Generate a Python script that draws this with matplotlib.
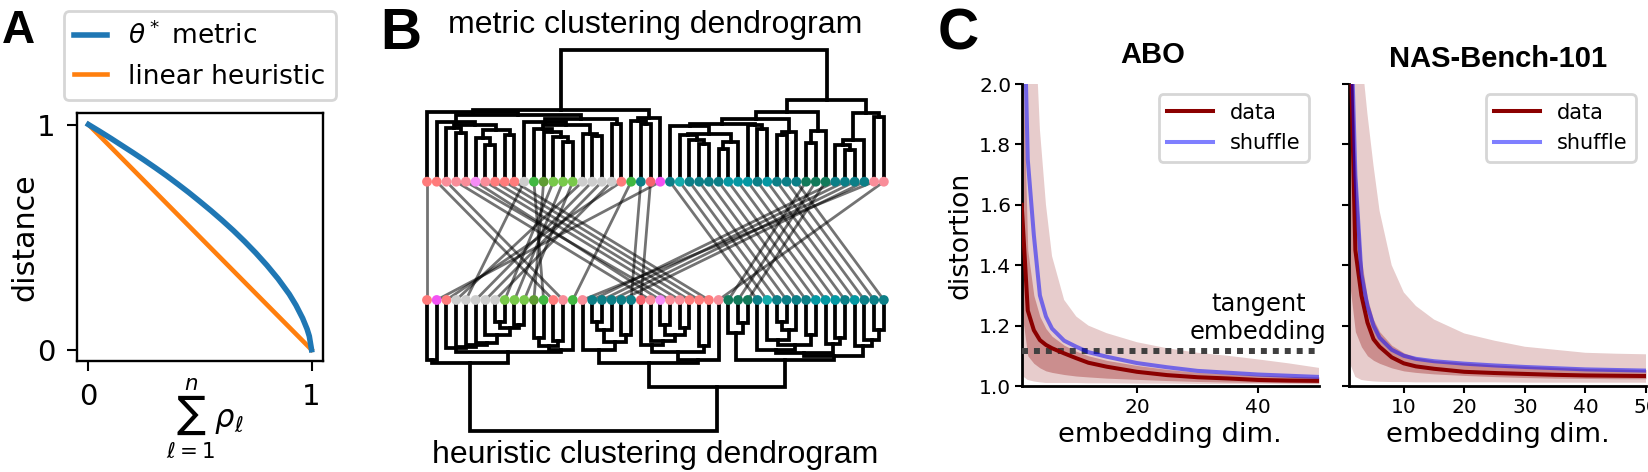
import matplotlib
matplotlib.use("Agg")
import matplotlib.pyplot as plt

# ---------------- data ----------------
# panel A
rho_sum = [0.0, 0.05, 0.1, 0.15, 0.2, 0.25, 0.3, 0.35, 0.4, 0.45, 0.5, 0.55, 0.6, 0.65,
           0.7, 0.75, 0.8, 0.85, 0.9, 0.93, 0.96, 0.98, 0.99, 1.0]
theta_metric = [1.0, 0.970, 0.939, 0.907, 0.875, 0.842, 0.808, 0.773, 0.736, 0.698, 0.658, 0.617,
                0.574, 0.529, 0.481, 0.430, 0.375, 0.315, 0.247, 0.198, 0.140, 0.092, 0.060, 0.0]
linear_x = [0.0, 1.0]
linear_y = [1.0, 0.0]

# panel B: leaf groups (metric order), link from metric leaf -> heuristic leaf
group_colors = {
    "salmon": "#ff7b7b", "pink": "#f98d99", "red": "#f5646e", "violet": "#f58cf5",
    "magenta": "#f352f3", "gray": "#cdcdcd", "green": "#41b841", "olive": "#5f9c33",
    "lgreen": "#79c94a", "teal": "#0c7f87", "cyan": "#14abab", "bteal": "#0497a2",
    "dgreen": "#127a5a",
}
leaf_groups = (["salmon", "salmon", "pink", "pink", "pink", "violet", "pink", "salmon",
                "salmon", "salmon", "gray", "green", "olive", "lgreen", "lgreen", "lgreen",
                "gray", "gray", "gray", "gray", "salmon", "green", "teal", "red", "magenta",
                "teal", "cyan", "teal", "teal", "teal", "teal", "bteal", "bteal", "bteal",
                "teal", "bteal", "teal", "teal", "teal", "dgreen", "dgreen", "dgreen",
                "teal", "teal", "teal", "teal", "pink", "pink"])
heuristic_pos = [1, 14, 15, 24, 26, 25, 27, 28, 29, 30, 5, 13, 12, 9, 10, 11, 4, 6, 7, 8,
                 3, 16, 22, 23, 2, 35, 36, 37, 38, 39, 40, 41, 42, 43, 44, 45, 46, 47, 48,
                 32, 33, 34, 18, 19, 20, 21, 17, 31]

# trees: (merge height, left, right); ints are leaf positions
metric_tree = (132,
    (72,
        (70, 1, (67,
            (60, 2, (57, (54, 3, (49, 4, 5)), (52, (44, 6, (37, 7, 8)), (47, 9, 10)))),
            (63, (60, 11, (57, (53, 12, (50, 13, (45, 14, (40, 15, 16)))),
                               (48, 17, (46, 18, 19)))), (58, 20, 21)))),
        (64, (61, 22, (58, 23, 24)), 25)),
    (82,
        (69.5,
            (63, (58, (56, 26, (48, (47, 27, (42, 28, (38, 29, 30))), (40, (33, 31, 32), 33))),
                       (57, 34, (53, 35, 36))),
                 (50, (47, 37, 38), 39)),
            (51, (39, 40, 41), 42)),
        (69, (42, (37, 43, (32, 44, 45)), 46), (65, 47, 48))))

heuristic_tree = (131,
    (63, (60, 1, 2),
        (52, (48, 3, (47, 4, (45, 5, (43, 6, (35, 7, (28, (22, 8, 9), (25, 10, 11))))))),
             (50, (46, (38, 12, 13), (41, 14, 15)), 16))),
    (87,
        (63, (50, 17, (42, (30, (22, 18, 19), 20), (35, 21, 22))),
             (60, (52, (45, 23, (41, 24, (35, (25, 25, 26), (28, 27, 28)))), (46, 29, 30)), 31)),
        (60, (33, 32, (23, 33, 34)),
             (56, (53, (50, 35, (45, (40, 36, (30, (22, 37, 38), 39)), (35, 40, 41))),
                       (44, 42, (38, 43, 44))),
                  (46, 45, (40, 46, (30, 47, 48)))))))

# panel C
dims = [1, 2, 3, 4, 5, 6, 8, 10, 12, 15, 20, 25, 30, 35, 40, 45, 50]
abo_data = [1.60, 1.25, 1.185, 1.152, 1.136, 1.125, 1.108, 1.092, 1.077, 1.064, 1.047, 1.036, 1.029, 1.025, 1.020, 1.018, 1.017]
abo_shuffle = [2.60, 1.75, 1.50, 1.30, 1.23, 1.19, 1.15, 1.13, 1.112, 1.097, 1.076, 1.062, 1.050, 1.044, 1.038, 1.034, 1.030]
abo_outer_hi = [3.2, 2.8, 2.3, 1.85, 1.6, 1.43, 1.285, 1.23, 1.2, 1.175, 1.145, 1.125, 1.11, 1.10, 1.088, 1.075, 1.06]
abo_outer_lo = [1.035, 1.02, 1.015, 1.012, 1.01, 1.01, 1.01, 1.01, 1.009, 1.009, 1.008, 1.008, 1.007, 1.007, 1.007, 1.006, 1.006]
abo_inner_hi = [2.2, 1.45, 1.3, 1.23, 1.19, 1.165, 1.135, 1.115, 1.1, 1.085, 1.068, 1.055, 1.045, 1.04, 1.035, 1.032, 1.03]
abo_inner_lo = [1.25, 1.1, 1.075, 1.06, 1.05, 1.045, 1.038, 1.033, 1.03, 1.026, 1.022, 1.018, 1.015, 1.013, 1.012, 1.011, 1.01]
abo_tangent = 1.117

nas_data = [2.3, 1.45, 1.30, 1.21, 1.155, 1.13, 1.095, 1.075, 1.065, 1.057, 1.047, 1.043, 1.040, 1.037, 1.035, 1.034, 1.033]
nas_shuffle = [2.4, 1.70, 1.37, 1.265, 1.20, 1.16, 1.12, 1.10, 1.09, 1.082, 1.074, 1.068, 1.063, 1.059, 1.055, 1.053, 1.051]
nas_outer_hi = [3.0, 2.6, 2.1, 1.9, 1.73, 1.58, 1.40, 1.31, 1.265, 1.22, 1.174, 1.15, 1.13, 1.12, 1.11, 1.107, 1.105]
nas_outer_lo = [1.08, 1.03, 1.02, 1.017, 1.015, 1.014, 1.013, 1.013, 1.012, 1.012, 1.012, 1.012, 1.011, 1.011, 1.011, 1.011, 1.011]
nas_inner_hi = [2.5, 1.75, 1.42, 1.29, 1.22, 1.18, 1.135, 1.11, 1.095, 1.085, 1.077, 1.07, 1.066, 1.062, 1.058, 1.056, 1.054]
nas_inner_lo = [1.35, 1.18, 1.13, 1.10, 1.085, 1.075, 1.06, 1.05, 1.045, 1.04, 1.035, 1.031, 1.028, 1.026, 1.025, 1.024, 1.024]

# ---------------- figure ----------------
W, H = 1648, 472
fig = plt.figure(figsize=(W / 100, H / 100), dpi=100)
HEAD = "Liberation Sans"


def px_axes(left, top, right, bottom):
    return fig.add_axes([left / W, 1 - bottom / H, (right - left) / W, (bottom - top) / H])


# ---- A ----
axA = px_axes(77.3, 113.3, 322.7, 361)
axA.plot(linear_x, linear_y, color="#ff7f0e", lw=3.3, label="linear heuristic")
axA.plot(rho_sum, theta_metric, color="#1f77b4", lw=4, label=r"$\theta^*$ metric")
axA.set_xlim(-0.05, 1.05)
axA.set_ylim(-0.05, 1.05)
axA.set_xticks([0, 1])
axA.set_yticks([0, 1])
axA.tick_params(labelsize=21, length=7, width=1.5, pad=9)
for s in axA.spines.values():
    s.set_linewidth(1.7)
axA.set_ylabel("distance", fontsize=21.7, labelpad=-2)
axA.set_xlabel(r"$\sum_{\ell=1}^{n}\rho_\ell$", fontsize=22)
axA.xaxis.set_label_coords(0.52, -0.06)
hA, lA = axA.get_legend_handles_labels()
legA = axA.legend(hA[::-1], lA[::-1], loc="lower center", bbox_to_anchor=(0.5, 1.0),
                  fontsize=19, handlelength=1.25)
legA.get_frame().set_linewidth(2)
fig.text(1.7 / W, 1 - 43.3 / H, "A", fontsize=33, fontweight="bold", family=HEAD, va="baseline")

# ---- B ----
GAP = 59.15
axB = fig.add_axes([380 / W, 0, 550 / W, 1])
axB.set_xlim(1 + (380 - 427) / 9.72, 1 + (930 - 427) / 9.72)
axB.set_ylim(-231.15, 240.85)
axB.axis("off")


def draw_tree(node, sign):
    if isinstance(node, int):
        return node, 0.0
    h, left, right = node
    xl, hl = draw_tree(left, sign)
    xr, hr = draw_tree(right, sign)
    axB.plot([xl, xl, xr, xr],
             [sign * (GAP + hl), sign * (GAP + h), sign * (GAP + h), sign * (GAP + hr)],
             color="black", lw=2.7, solid_joinstyle="miter", zorder=2)
    return (xl + xr) / 2, h


draw_tree(metric_tree, 1)
draw_tree(heuristic_tree, -1)

n_leaves = len(leaf_groups)
bottom_groups = [None] * n_leaves
for i, (g, b) in enumerate(zip(leaf_groups, heuristic_pos)):
    axB.plot([i + 1, b], [GAP, -GAP], color="black", alpha=0.55, lw=2.0, zorder=1)
    bottom_groups[b - 1] = g

axB.scatter(range(1, n_leaves + 1), [GAP] * n_leaves, s=50,
            c=[group_colors[g] for g in leaf_groups], linewidths=0, zorder=3)
axB.scatter(range(1, n_leaves + 1), [-GAP] * n_leaves, s=50,
            c=[group_colors[g] for g in bottom_groups], linewidths=0, zorder=3)

fig.text(655.4 / W, 1 - 33 / H, "metric clustering dendrogram", ha="center", va="baseline",
         fontsize=23, family=HEAD)
fig.text(655.4 / W, 1 - 463.3 / H, "heuristic clustering dendrogram", ha="center", va="baseline",
         fontsize=23, family=HEAD)
fig.text(380 / W, 1 - 49 / H, "B", fontsize=41, fontweight="bold", family=HEAD, va="baseline")

# ---- C ----
axC1 = px_axes(1021.7, 84, 1319, 386)
axC2 = px_axes(1349.3, 84, 1646, 386)

panels = [
    (axC1, "ABO", abo_data, abo_shuffle, abo_outer_lo, abo_outer_hi, abo_inner_lo, abo_inner_hi, [20, 40], 15),
    (axC2, "NAS-Bench-101", nas_data, nas_shuffle, nas_outer_lo, nas_outer_hi, nas_inner_lo, nas_inner_hi,
     [10, 20, 30, 40, 50], 12.5),
]
for ax, title, d, sh, olo, ohi, ilo, ihi, xt, tpad in panels:
    ax.fill_between(dims, olo, ohi, color="darkred", alpha=0.2, lw=0)
    ax.fill_between(dims, ilo, ihi, color="darkred", alpha=0.3, lw=0)
    ax.plot(dims, d, color="darkred", lw=2.9, label="data", zorder=4)
    ax.plot(dims, sh, color="blue", alpha=0.5, lw=2.9, label="shuffle", zorder=4)
    ax.set_xlim(1, 50)
    ax.set_ylim(1.0, 2.0)
    ax.set_xticks(xt)
    ax.set_yticks([1.0, 1.2, 1.4, 1.6, 1.8, 2.0])
    ax.spines["top"].set_visible(False)
    ax.spines["right"].set_visible(False)
    ax.spines["left"].set_linewidth(2)
    ax.spines["bottom"].set_linewidth(2)
    ax.tick_params(labelsize=14.5, length=5, width=1.5)
    ax.tick_params(axis="y", pad=2.4)
    ax.tick_params(axis="x", pad=3.6)
    ax.set_xlabel("embedding dim.", fontsize=19.6)
    leg = ax.legend(loc="upper right", fontsize=15, handlelength=2.2)
    leg.get_frame().set_linewidth(2)
    ax.set_title(title, fontsize=21, fontweight="bold", family=HEAD, pad=tpad)

axC1.title.set_x(0.44)
axC1.set_ylabel("distortion", fontsize=19.3)
axC2.set_yticklabels([])
axC1.axhline(abo_tangent, color="#404040", lw=4.3, dashes=(1, 1), zorder=3)
axC1.text(40, 1.14, "tangent\nembedding", ha="center", va="bottom", fontsize=17.4)
fig.text(938 / W, 1 - 50 / H, "C", fontsize=41, fontweight="bold", family=HEAD, va="baseline")

fig.savefig("out.png", dpi=100)
